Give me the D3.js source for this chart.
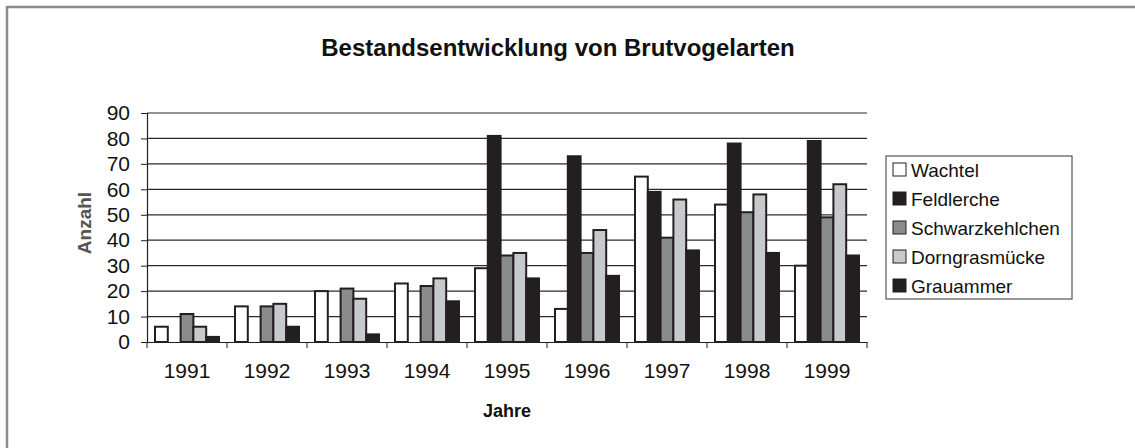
<!DOCTYPE html>
<html>
<head>
<meta charset="utf-8">
<script src="https://cdn.jsdelivr.net/npm/d3@7"></script>
<style>
  body { margin: 0; background: #fff; }
  text { font-family: "Liberation Sans", Arial, sans-serif; fill: #111; }
</style>
</head>
<body>
<div id="chart"></div>
<script>
// Daten
const years = ['1991', '1992', '1993', '1994', '1995', '1996', '1997', '1998', '1999']
const species = ['Wachtel', 'Feldlerche', 'Schwarzkehlchen', 'Dorngrasmücke', 'Grauammer']
const wachtel = [6, 14, 20, 23, 29, 13, 65, 54, 30]
const feldlerche = [0, 0, 0, 0, 81, 73, 59, 78, 79]
const schwarzkehlchen = [11, 14, 21, 22, 34, 35, 41, 51, 49]
const dorngrasmuecke = [6, 15, 17, 25, 35, 44, 56, 58, 62]
const grauammer = [2, 6, 3, 16, 25, 26, 36, 35, 34]
const yTicks = [0, 10, 20, 30, 40, 50, 60, 70, 80, 90]
const colors = ['#ffffff', '#231f20', '#8a8b8d', '#c8c9cb', '#231f20']

const series = [wachtel, feldlerche, schwarzkehlchen, dorngrasmuecke, grauammer]
const rows = []
years.forEach((y, i) => {
  species.forEach((s, j) => rows.push({ year: y, sp: s, v: series[j][i], c: colors[j] }))
})

const W = 1135, H = 448
const plot = { left: 147, right: 867, top: 113, bottom: 342 }

const svg = d3.select('#chart')
              .append('svg')
              .attr('width', W)
              .attr('height', H)

// Rahmen
svg.append('rect')
  .attr('x', 7).attr('y', 7)
  .attr('width', W + 10).attr('height', H + 10)
  .attr('fill', 'none')
  .attr('stroke', '#8c8c8c')
  .attr('stroke-width', 2.5)

const x = d3.scaleBand().domain(years).range([plot.left, plot.right]).paddingInner(0).paddingOuter(0)
const xi = d3.scaleBand().domain(species).range([8, x.bandwidth() - 8])
const y = d3.scaleLinear().domain([0, 90]).range([plot.bottom, plot.top])

// Gitterlinien
svg.append('g')
  .selectAll('line')
  .data(yTicks.slice(1))
  .enter()
  .append('line')
  .attr('x1', plot.left).attr('x2', plot.right)
  .attr('y1', d => y(d)).attr('y2', d => y(d))
  .attr('stroke', '#2a2a2a')
  .attr('stroke-width', 1.2)

// Balken
svg.append('g')
  .selectAll('rect')
  .data(rows.filter(d => d.v > 0))
  .enter()
  .append('rect')
  .attr('x', d => x(d.year) + xi(d.sp))
  .attr('y', d => y(d.v))
  .attr('width', xi.bandwidth())
  .attr('height', d => y(0) - y(d.v))
  .attr('fill', d => d.c)
  .attr('stroke', '#231f20')
  .attr('stroke-width', 2)

// Y-Achse
const yAxis = svg.append('g')
  .attr('transform', `translate(${plot.left},0)`)
  .call(d3.axisLeft(y).tickValues(yTicks).tickSize(6).tickPadding(11))
yAxis.select('.domain').attr('stroke', '#231f20').attr('stroke-width', 1.2)
yAxis.selectAll('.tick line').attr('stroke', '#231f20')
yAxis.selectAll('text').style('font-size', '21px').attr('fill', '#111')

// X-Achse
const xAxis = svg.append('g')
  .attr('transform', `translate(0,${plot.bottom})`)
  .call(d3.axisBottom(x).tickSize(0).tickPadding(21))
xAxis.select('.domain').attr('stroke', '#231f20').attr('stroke-width', 1.2)
xAxis.selectAll('text').style('font-size', '21px').attr('fill', '#111')
xAxis.selectAll('.sep')
  .data(years.concat(['end']))
  .enter()
  .append('line')
  .attr('x1', (d, i) => plot.left + i * x.bandwidth())
  .attr('x2', (d, i) => plot.left + i * x.bandwidth())
  .attr('y1', 0).attr('y2', 6)
  .attr('stroke', '#231f20')

// Titel und Achsentitel
svg.append('text')
  .attr('x', 558).attr('y', 56)
  .attr('text-anchor', 'middle')
  .style('font-size', '24px').style('font-weight', 'bold')
  .text('Bestandsentwicklung von Brutvogelarten')

svg.append('text')
  .attr('x', 507).attr('y', 417)
  .attr('text-anchor', 'middle')
  .style('font-size', '18px').style('font-weight', 'bold')
  .text('Jahre')

svg.append('text')
  .attr('transform', 'translate(91,223) rotate(-90)')
  .attr('text-anchor', 'middle')
  .style('font-size', '19px').style('font-weight', 'bold')
  .style('fill', '#555')
  .text('Anzahl')

// Legende
const legend = svg.append('g').attr('transform', 'translate(886,156)')
legend.append('rect')
  .attr('width', 186).attr('height', 143)
  .attr('fill', '#fff')
  .attr('stroke', '#555')
  .attr('stroke-width', 1.2)
const item = legend.selectAll('.item')
  .data(species)
  .enter()
  .append('g')
  .attr('transform', (d, i) => `translate(7,${14 + i * 29})`)
item.append('rect')
  .attr('x', 0).attr('y', -7)
  .attr('width', 13).attr('height', 13)
  .attr('fill', (d, i) => colors[i])
  .attr('stroke', '#231f20')
  .attr('stroke-width', 1)
item.append('text')
  .attr('x', 18).attr('y', 7)
  .style('font-size', '19px')
  .text(d => d)
</script>
</body>
</html>
